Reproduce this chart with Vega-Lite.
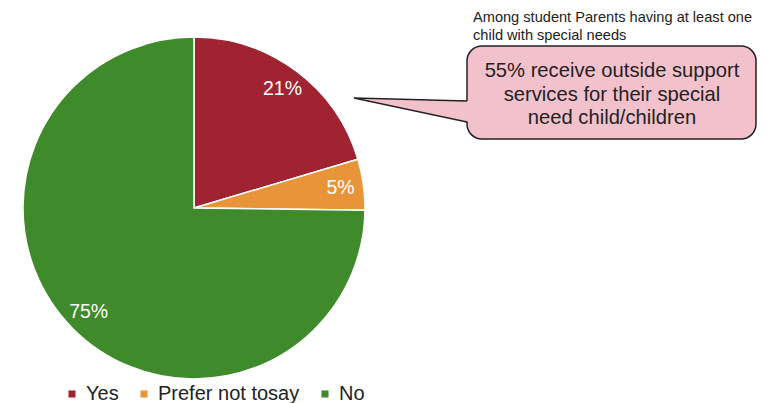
{
  "$schema": "https://vega.github.io/schema/vega-lite/v6.json",
  "width": 782,
  "height": 403,
  "autosize": {"type": "fit", "contains": "padding"},
  "padding": 0,
  "background": "white",
  "config": {"view": {"stroke": null}, "font": "Liberation Sans"},
  "datasets": {
    "pie": [
      {"category": "Yes", "value": 20.4, "label": "21%", "ord": 1},
      {"category": "Prefer not tosay", "value": 4.8, "label": "5%", "ord": 2},
      {"category": "No", "value": 74.8, "label": "75%", "ord": 3}
    ],
    "box": [{"x": 467, "x2": 756, "y": 46, "y2": 139}],
    "pointer": [
      {"px": 470, "py": 101, "ord": 1},
      {"px": 354, "py": 98, "ord": 2},
      {"px": 470, "py": 122, "ord": 3}
    ],
    "pointerEdge": [
      {"px": 467, "py": 101, "ord": 1},
      {"px": 354, "py": 98, "ord": 2},
      {"px": 467, "py": 122, "ord": 3}
    ],
    "calloutText": [
      {"tx": 612, "ty": 71, "text": "55% receive outside support"},
      {"tx": 612, "ty": 95, "text": "services for their special"},
      {"tx": 612, "ty": 118, "text": "need child/children"}
    ],
    "noteText": [
      {"tx": 473, "ty": 18, "text": "Among student Parents having at least one"},
      {"tx": 473, "ty": 36, "text": "child with special needs"}
    ]
  },
  "layer": [
    {
      "data": {"name": "pie"},
      "mark": {"type": "arc", "x": 194, "y": 208, "outerRadius": 171, "stroke": "white", "strokeWidth": 1.5},
      "encoding": {
        "theta": {"field": "value", "type": "quantitative", "stack": true},
        "order": {"field": "ord", "type": "quantitative"},
        "color": {
          "field": "category",
          "type": "nominal",
          "scale": {"domain": ["Yes", "Prefer not tosay", "No"], "range": ["#A02332", "#E8953A", "#3F8A2A"]},
          "legend": {
            "title": null,
            "orient": "none",
            "legendX": 62,
            "legendY": 384,
            "direction": "horizontal",
            "symbolType": "square",
            "symbolSize": 50,
            "symbolStrokeWidth": 0,
            "labelFontSize": 20,
            "labelColor": "#222222",
            "labelFont": "Liberation Sans",
            "labelOffset": 4,
            "columnPadding": 15
          }
        }
      }
    },
    {
      "data": {"name": "pie"},
      "mark": {"type": "text", "x": 194, "y": 208, "radius": 148, "fontSize": 19.5, "fill": "white", "font": "Liberation Sans"},
      "encoding": {
        "theta": {"field": "value", "type": "quantitative", "stack": true},
        "order": {"field": "ord", "type": "quantitative"},
        "text": {"field": "label", "type": "nominal"}
      }
    },
    {
      "data": {"name": "box"},
      "mark": {"type": "rect", "fill": "#F3C1CC", "stroke": "#222222", "strokeWidth": 1.5, "cornerRadius": 15},
      "encoding": {
        "x": {"field": "x", "type": "quantitative", "scale": {"domain": [0, 782], "nice": false, "zero": false}, "axis": null},
        "x2": {"field": "x2"},
        "y": {"field": "y", "type": "quantitative", "scale": {"domain": [403, 0], "nice": false, "zero": false}, "axis": null},
        "y2": {"field": "y2"}
      }
    },
    {
      "data": {"name": "pointer"},
      "mark": {"type": "line", "fill": "#F3C1CC", "stroke": null, "strokeWidth": 0},
      "encoding": {
        "x": {"field": "px", "type": "quantitative", "scale": {"domain": [0, 782], "nice": false, "zero": false}, "axis": null},
        "y": {"field": "py", "type": "quantitative", "scale": {"domain": [403, 0], "nice": false, "zero": false}, "axis": null},
        "order": {"field": "ord", "type": "quantitative"}
      }
    },
    {
      "data": {"name": "pointerEdge"},
      "mark": {"type": "line", "stroke": "#222222", "strokeWidth": 1.5},
      "encoding": {
        "x": {"field": "px", "type": "quantitative", "scale": {"domain": [0, 782], "nice": false, "zero": false}, "axis": null},
        "y": {"field": "py", "type": "quantitative", "scale": {"domain": [403, 0], "nice": false, "zero": false}, "axis": null},
        "order": {"field": "ord", "type": "quantitative"}
      }
    },
    {
      "data": {"name": "calloutText"},
      "mark": {"type": "text", "fontSize": 20.2, "fill": "#222222", "align": "center", "baseline": "middle", "font": "Liberation Sans"},
      "encoding": {
        "x": {"field": "tx", "type": "quantitative", "scale": {"domain": [0, 782], "nice": false, "zero": false}, "axis": null},
        "y": {"field": "ty", "type": "quantitative", "scale": {"domain": [403, 0], "nice": false, "zero": false}, "axis": null},
        "text": {"field": "text", "type": "nominal"}
      }
    },
    {
      "data": {"name": "noteText"},
      "mark": {"type": "text", "fontSize": 14.6, "fill": "#222222", "align": "left", "baseline": "middle", "font": "Liberation Sans"},
      "encoding": {
        "x": {"field": "tx", "type": "quantitative", "scale": {"domain": [0, 782], "nice": false, "zero": false}, "axis": null},
        "y": {"field": "ty", "type": "quantitative", "scale": {"domain": [403, 0], "nice": false, "zero": false}, "axis": null},
        "text": {"field": "text", "type": "nominal"}
      }
    }
  ]
}
